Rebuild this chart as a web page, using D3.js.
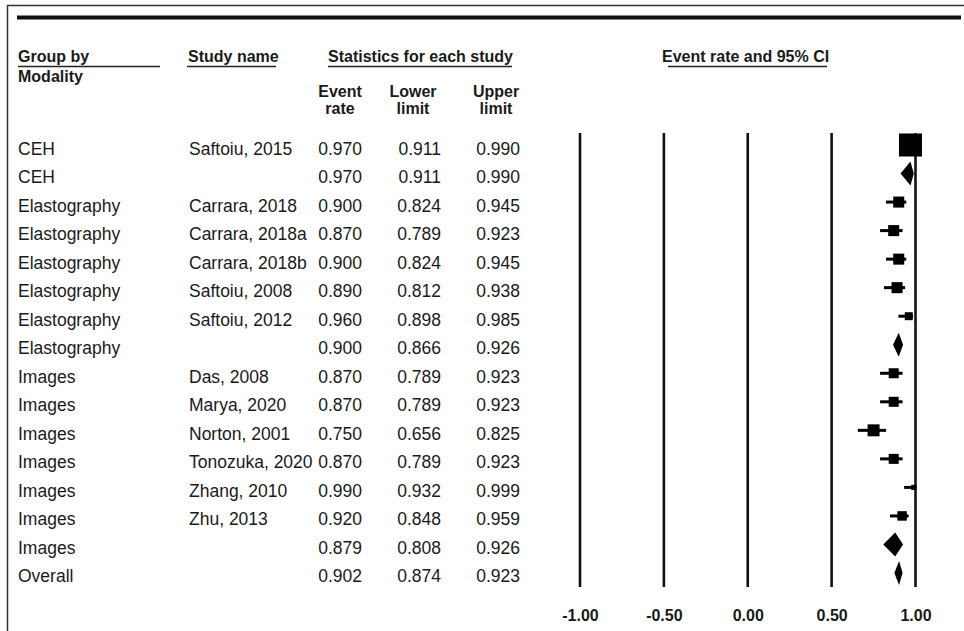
<!DOCTYPE html>
<html>
<head>
<meta charset="utf-8">
<script src="https://cdn.jsdelivr.net/npm/d3@7"></script>
<style>
  html, body { margin: 0; padding: 0; background: #fff; }
  svg { display: block; }
  text { font-family: "Liberation Sans", Arial, sans-serif; fill: #1a1a1a; }
</style>
</head>
<body>
<svg id="chart" width="964" height="631"></svg>
<script>
// ---- Data ----
const groups = ["CEH", "CEH", "Elastography", "Elastography", "Elastography", "Elastography",
  "Elastography", "Elastography", "Images", "Images", "Images", "Images", "Images", "Images",
  "Images", "Overall"];
const studies = ["Saftoiu, 2015", "", "Carrara, 2018", "Carrara, 2018a", "Carrara, 2018b",
  "Saftoiu, 2008", "Saftoiu, 2012", "", "Das, 2008", "Marya, 2020", "Norton, 2001",
  "Tonozuka, 2020", "Zhang, 2010", "Zhu, 2013", "", ""];
const eventRate = [0.970, 0.970, 0.900, 0.870, 0.900, 0.890, 0.960, 0.900, 0.870, 0.870, 0.750,
  0.870, 0.990, 0.920, 0.879, 0.902];
const lowerLimit = [0.911, 0.911, 0.824, 0.789, 0.824, 0.812, 0.898, 0.866, 0.789, 0.789, 0.656,
  0.789, 0.932, 0.848, 0.808, 0.874];
const upperLimit = [0.990, 0.990, 0.945, 0.923, 0.945, 0.938, 0.985, 0.926, 0.923, 0.923, 0.825,
  0.923, 0.999, 0.959, 0.926, 0.923];
const isSummary = [false, true, false, false, false, false, false, true, false, false, false,
  false, false, false, true, true];
// relative study weights (box area)
const weights = [100, 0, 23, 23, 23, 23, 12, 0, 19, 19, 27, 19, 5, 17, 0, 0];
const tickValues = [-1.00, -0.50, 0.00, 0.50, 1.00];

// ---- Layout ----
const svg = d3.select("#chart");
const fmt = d3.format(".3f");
const rows = d3.range(groups.length);

const x = d3.scaleLinear().domain([-1, 1]).range([580, 915.5]);
const yText = d3.scalePoint().domain(rows).range([155, 582]);
const yMark = d3.scalePoint().domain(rows).range([145, 573]);
const box = d3.scaleSqrt().domain([0, 100]).range([0, 23]);

// frame
svg.append("line").attr("x1", 7).attr("x2", 964).attr("y1", 5.5).attr("y2", 5.5)
  .attr("stroke", "#333").attr("stroke-width", 1.5);
svg.append("line").attr("x1", 7.5).attr("x2", 7.5).attr("y1", 5).attr("y2", 631)
  .attr("stroke", "#333").attr("stroke-width", 1.5);
// thick rule
svg.append("line").attr("x1", 17).attr("x2", 961).attr("y1", 17.5).attr("y2", 17.5)
  .attr("stroke", "#111").attr("stroke-width", 4);

// headers
const hdr = svg.append("g").attr("font-weight", "bold").attr("font-size", "16px");
function header(txt, xp, yp, anchor) {
  return hdr.append("text").attr("x", xp).attr("y", yp).attr("text-anchor", anchor || "start")
    .style("font-weight", "bold").text(txt);
}
function uline(x1, x2, yp) {
  hdr.append("line").attr("x1", x1).attr("x2", x2).attr("y1", yp).attr("y2", yp)
    .attr("stroke", "#222").attr("stroke-width", 1.6);
}
header("Group by", 18, 62); uline(18, 160, 66.5);
header("Modality", 18, 82);
header("Study name", 188, 62); uline(187, 276, 66.5);
header("Statistics for each study", 328, 62); uline(328, 512, 66.5);
header("Event rate and 95% CI", 662, 62); uline(668, 827, 66.5);
const statHeads = [["Event", "rate", 340], ["Lower", "limit", 413], ["Upper", "limit", 496]];
statHeads.forEach(h => {
  header(h[0], h[2], 97, "middle");
  header(h[1], h[2], 114, "middle");
});

// table rows
const tbl = svg.append("g").attr("font-size", "17.5px");
rows.forEach(i => {
  const yy = yText(i);
  tbl.append("text").attr("x", 18).attr("y", yy).text(groups[i]);
  tbl.append("text").attr("x", 189).attr("y", yy).text(studies[i]);
  tbl.append("text").attr("x", 362).attr("y", yy).attr("text-anchor", "end").text(fmt(eventRate[i]));
  tbl.append("text").attr("x", 441).attr("y", yy).attr("text-anchor", "end").text(fmt(lowerLimit[i]));
  tbl.append("text").attr("x", 520).attr("y", yy).attr("text-anchor", "end").text(fmt(upperLimit[i]));
});

// vertical reference lines
svg.append("g").selectAll("line").data(tickValues).join("line")
  .attr("x1", d => x(d)).attr("x2", d => x(d))
  .attr("y1", 133).attr("y2", 587)
  .attr("stroke", "#111").attr("stroke-width", 2.6);

// axis labels
const axis = d3.axisBottom(x).tickValues(tickValues).tickFormat(d => d.toFixed(2))
  .tickSize(0).tickPadding(0);
const ag = svg.append("g").attr("transform", "translate(0,609)").call(axis);
ag.select(".domain").remove();
ag.selectAll("text").attr("font-size", "16px").attr("font-weight", "bold")
  .attr("font-family", "'Liberation Sans', Arial, sans-serif").attr("fill", "#1a1a1a")
  .attr("dy", "0.76em");

// study markers
const marks = svg.append("g");
rows.filter(i => !isSummary[i]).forEach(i => {
  const cy = yMark(i);
  marks.append("line").attr("x1", x(lowerLimit[i])).attr("x2", x(upperLimit[i]))
    .attr("y1", cy).attr("y2", cy).attr("stroke", "#000").attr("stroke-width", 3);
  const s = box(weights[i]);
  marks.append("rect").attr("x", x(eventRate[i]) - s / 2).attr("y", cy - s / 2)
    .attr("width", s).attr("height", s).attr("fill", "#000");
});
// summary diamonds
rows.filter(i => isSummary[i]).forEach(i => {
  const cy = yMark(i), h = 12;
  const pts = [[x(lowerLimit[i]), cy], [x(eventRate[i]), cy - h], [x(upperLimit[i]), cy], [x(eventRate[i]), cy + h]];
  marks.append("path").attr("d", d3.line()(pts) + "Z").attr("fill", "#000");
});
</script>
</body>
</html>
